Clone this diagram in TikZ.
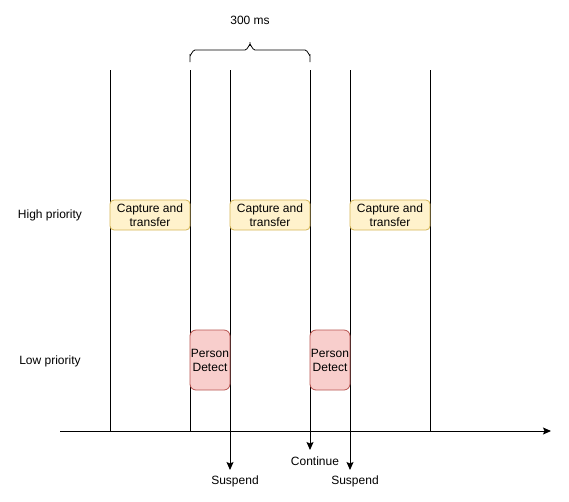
\documentclass[tikz,border=0pt]{standalone}
\usepackage{fontspec}
\setmainfont{Liberation Sans}
\usetikzlibrary{arrows.meta}
\definecolor{capfill}{HTML}{FFF2CC}
\definecolor{capstroke}{HTML}{D6B656}
\definecolor{pdfill}{HTML}{F8CECC}
\definecolor{pdstroke}{HTML}{B85450}
\begin{document}
\begin{tikzpicture}[x=1pt,y=-1pt,font=\fontsize{12}{14}\selectfont,
  capt/.style={draw=capstroke,fill=capfill,rounded corners=4pt,minimum width=80pt,minimum height=30pt,align=center,inner sep=0pt,line width=0.8pt},
  pd/.style={draw=pdstroke,fill=pdfill,rounded corners=6pt,minimum width=40pt,minimum height=60pt,align=center,inner sep=0pt,line width=0.8pt},
  ln/.style={line width=1pt},
  arr/.style={line width=1pt,-{Stealth[length=8pt,width=7pt,inset=1.5pt]}},
  lbl/.style={inner sep=0pt}]
\useasboundingbox (0,0) rectangle (569,501);
% top coordinates of the vertical lines
\coordinate (t1) at (110,70);
\coordinate (t2) at (190,70);
\coordinate (t3) at (230,70);
\coordinate (t4) at (310,70);
\coordinate (t5) at (350,70);
\coordinate (t6) at (430,70);
\coordinate (b1) at (110,431);
\coordinate (b2) at (190,431);
\coordinate (b6) at (430,431);
\coordinate (e3) at (230,470);
\coordinate (e4) at (310,450);
\coordinate (e5) at (350,470);
\coordinate (ax0) at (60,431);
\coordinate (ax1) at (551,431);
% vertical lines
\draw[ln] (t1) -- (b1);
\draw[ln] (t2) -- (b2);
\draw[ln] (t6) -- (b6);
\draw[arr] (t3) -- (e3);
\draw[arr] (t4) -- (e4);
\draw[arr] (t5) -- (e5);
% axis
\draw[arr] (ax0) -- (ax1);
% brace
\coordinate (brL) at (190,62);
\coordinate (brR) at (310,62);
\draw[line width=0.8pt] (brL) -- (190,55) to[out=-90,in=180] (195,50) -- (245,50)
  to[out=0,in=90] (250,45) -- (250,42) -- (250,45) to[out=90,in=180] (255,50)
  -- (305,50) to[out=0,in=-90] (brR |- 0,55) -- (brR);
\node[lbl] (ms) at (250,20) {300 ms};
% capture boxes
\node[capt] (c1) at (150,215) {Capture and\\transfer};
\node[capt] (c2) at (270,215) {Capture and\\transfer};
\node[capt] (c3) at (390,215) {Capture and\\transfer};
% person detect
\node[pd] (p1) at (210,360) {Person\\Detect};
\node[pd] (p2) at (330,360) {Person\\Detect};
% labels
\node[lbl] (hp) at (50,215) {High priority};
\node[lbl] (lp) at (50,361) {Low priority};
\node[lbl] (s1) at (235,481) {Suspend};
\node[lbl] (co) at (315,461) {Continue};
\node[lbl] (s2) at (355,481) {Suspend};
\end{tikzpicture}
\end{document}
